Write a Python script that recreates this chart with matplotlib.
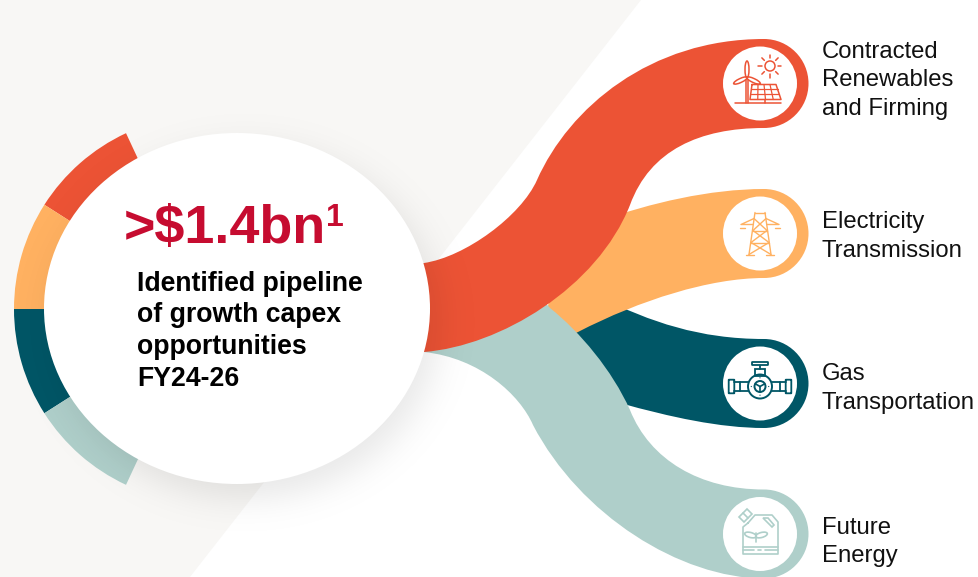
import numpy as np
import matplotlib
matplotlib.use("Agg")
import matplotlib.pyplot as plt
from matplotlib.patches import Circle, Ellipse, PathPatch, Polygon, Wedge, Rectangle, FancyBboxPatch
from matplotlib.path import Path

plt.rcParams['font.family'] = ['Liberation Sans', 'DejaVu Sans']

# chart content
segments = ["Contracted\nRenewables\nand Firming", "Electricity\nTransmission",
            "Gas\nTransportation", "Future\nEnergy"]
ring_shares = [25, 25, 25, 25]
headline = ">$1.4bn"
footnote_mark = "1"
description = ["Identified pipeline", "of growth capex", "opportunities", "FY24-26"]

RED = '#EC5335'
ORANGE = '#FFB161'
TEAL = '#005666'
MINT = '#AFCFCA'
CRIMSON = '#C60C30'
PAPER = '#F8F7F5'
colors = [RED, ORANGE, TEAL, MINT]

CAP_X, CAP_R = 764, 44.5
KAPPA = 0.5523 * CAP_R


def ribbon(head, upper, cy, lower, tail):
    """Closed band: head points, cubic runs along the upper edge, a round cap, cubic runs back."""
    verts = [head[0]]
    codes = [Path.MOVETO]
    for p in head[1:]:
        verts.append(p)
        codes.append(Path.LINETO)
    for c1, c2, p in upper:
        verts += [c1, c2, p]
        codes += [Path.CURVE4] * 3
    # round end around the icon disc
    right = CAP_X + CAP_R
    verts += [(CAP_X + KAPPA, cy - CAP_R), (right, cy - KAPPA), (right, cy),
              (right, cy + KAPPA), (CAP_X + KAPPA, cy + CAP_R), (CAP_X, cy + CAP_R)]
    codes += [Path.CURVE4] * 6
    for c1, c2, p in lower:
        verts += [c1, c2, p]
        codes += [Path.CURVE4] * 3
    for p in tail:
        verts.append(p)
        codes.append(Path.LINETO)
    verts.append(head[0])
    codes.append(Path.CLOSEPOLY)
    return Path(verts, codes)


def lines(ax, color, segs, lw=1.1):
    for seg in segs:
        s = np.array(seg, dtype=float)
        ax.plot(s[:, 0], s[:, 1], color=color, lw=lw, solid_capstyle='round',
                solid_joinstyle='round', zorder=7)


def icon_wind_solar(ax, cx, cy, c):
    # sun
    sx, sy = cx + 10, cy - 17.5
    ax.add_patch(Circle((sx, sy), 5, fill=False, ec=c, lw=1.1, zorder=7))
    for a in np.deg2rad(np.arange(0, 360, 45)):
        lines(ax, c, [[(sx + 8 * np.cos(a), sy + 8 * np.sin(a)),
                       (sx + 11.5 * np.cos(a), sy + 11.5 * np.sin(a))]])
    # turbine
    hx, hy = cx - 13, cy - 6
    lines(ax, c, [[(hx - 1, hy + 2), (hx - 1, cy + 19)], [(hx + 1.5, hy + 2), (hx + 1.5, cy + 19)]])
    ax.add_patch(Ellipse((hx, hy - 8), 4, 17, fill=False, ec=c, lw=1.1, zorder=7))
    ax.add_patch(Ellipse((hx - 6.5, hy + 3), 15, 4, angle=-25, fill=False, ec=c, lw=1.1, zorder=7))
    ax.add_patch(Ellipse((hx + 6.5, hy + 3), 15, 4, angle=25, fill=False, ec=c, lw=1.1, zorder=7))
    # panel
    tl, tr, br, bl = (cx - 8, cy + 1), (cx + 16, cy + 1), (cx + 21, cy + 16), (cx - 10, cy + 16)
    lines(ax, c, [[tl, tr, br, bl, tl]])
    for t in (0.25, 0.5, 0.75):
        lines(ax, c, [[(tl[0] + t * (tr[0] - tl[0]), tl[1]), (bl[0] + t * (br[0] - bl[0]), bl[1])]], lw=0.9)
    for t in (0.33, 0.66):
        lines(ax, c, [[(tl[0] + t * (bl[0] - tl[0]), tl[1] + t * 15), (tr[0] + t * (br[0] - tr[0]), tr[1] + t * 15)]], lw=0.9)
    lines(ax, c, [[(cx - 25, cy + 19.5), (cx + 21, cy + 19.5)], [(cx + 5, cy + 16), (cx + 5, cy + 19.5)]])


def icon_pylon(ax, cx, cy, c):
    lw = 1.0
    top_l, top_r = (cx - 5, cy - 21), (cx + 5, cy - 21)
    foot_l, foot_r = (cx - 11, cy + 21), (cx + 11, cy + 21)
    lines(ax, c, [[top_l, top_r], [top_l, foot_l], [top_r, foot_r]], lw)
    lines(ax, c, [[(cx - 6, cy - 15), (cx - 19, cy - 9), (cx - 7, cy - 9)],
                  [(cx + 6, cy - 15), (cx + 19, cy - 9), (cx + 7, cy - 9)]], lw)
    lines(ax, c, [[(cx - 6, cy - 15), (cx + 7, cy - 3), (cx - 9, cy + 9), (cx + 11, cy + 21)],
                  [(cx + 6, cy - 15), (cx - 7, cy - 3), (cx + 9, cy + 9), (cx - 11, cy + 21)],
                  [(cx - 7, cy - 3), (cx + 7, cy - 3)], [(cx - 9, cy + 9), (cx + 9, cy + 9)]], lw)
    lines(ax, c, [[(cx - 20, cy - 6), (cx - 15, cy - 6)], [(cx + 15, cy - 6), (cx + 20, cy - 6)],
                  [(cx - 14, cy + 21.5), (cx - 6, cy + 21.5)], [(cx + 6, cy + 21.5), (cx + 14, cy + 21.5)]], lw)


def icon_valve(ax, cx, cy, c):
    body_y = cy + 3
    ax.add_patch(Circle((cx, body_y), 12, fill=False, ec=c, lw=1.4, zorder=7))
    ax.add_patch(Circle((cx, body_y), 5.5, fill=False, ec=c, lw=1.4, zorder=7))
    for a in np.deg2rad([-90, 30, 150]):
        lines(ax, c, [[(cx, body_y), (cx + 5.5 * np.cos(a), body_y - 5.5 * np.sin(a))]], 1.2)
    for a in np.deg2rad([0, 90, 180, 270]):
        ax.add_patch(Circle((cx + 8.7 * np.cos(a), body_y + 8.7 * np.sin(a)), 0.6, fc=c, ec='none', zorder=7))
    ax.add_patch(Rectangle((cx - 5, cy - 15), 10, 7, fill=False, ec=c, lw=1.3, zorder=7))
    ax.add_patch(FancyBboxPatch((cx - 7.5, cy - 21), 15, 2, boxstyle="round,pad=0.5", fill=False, ec=c, lw=1.3, zorder=7))
    lines(ax, c, [[(cx, cy - 18), (cx, cy - 15)]], 1.3)
    for side in (-1, 1):
        lines(ax, c, [[(cx + side * 12, body_y - 4.5), (cx + side * 26, body_y - 4.5)],
                      [(cx + side * 12, body_y + 4.5), (cx + side * 26, body_y + 4.5)],
                      [(cx + side * 20, body_y - 4.5), (cx + side * 20, body_y + 4.5)]], 1.3)
        x0 = cx + 26 if side > 0 else cx - 31
        ax.add_patch(FancyBboxPatch((x0, body_y - 6.5), 5, 13, boxstyle="round,pad=0.3", fill=False, ec=c, lw=1.3, zorder=7))


def icon_can(ax, cx, cy, c):
    lw = 1.2
    lines(ax, c, [[(cx - 12, cy - 11), (cx - 5, cy - 19), (cx + 12, cy - 19), (cx + 18, cy - 12),
                   (cx + 18, cy + 20), (cx - 17, cy + 20), (cx - 17, cy - 7), (cx - 12, cy - 11)]], lw)
    lines(ax, c, [[(cx - 17, cy + 13), (cx + 18, cy + 13)], [(cx - 17, cy + 16), (cx - 6, cy + 16)],
                  [(cx - 2, cy + 16), (cx + 1, cy + 16)], [(cx + 5, cy + 16), (cx + 18, cy + 16)]], lw)
    # slanted cap and grip
    ax.add_patch(Polygon([(cx - 21, cy - 17), (cx - 13, cy - 25), (cx - 8, cy - 20), (cx - 16, cy - 12)],
                         closed=True, fill=False, ec=c, lw=lw, zorder=7))
    lines(ax, c, [[(cx - 17, cy - 21), (cx - 12, cy - 16)]], lw)
    ax.add_patch(Polygon([(cx + 3, cy - 16), (cx + 8, cy - 16), (cx + 14, cy - 9), (cx + 12, cy - 7)],
                         closed=True, fill=False, ec=c, lw=lw, zorder=7))
    # sprout
    sx = cx - 4
    lines(ax, c, [[(sx, cy - 1), (sx, cy + 8)]], lw)
    ax.add_patch(Ellipse((sx - 5.5, cy + 1), 12, 5, angle=15, fill=False, ec=c, lw=lw, zorder=7))
    ax.add_patch(Ellipse((sx + 5.5, cy + 1), 12, 5, angle=-15, fill=False, ec=c, lw=lw, zorder=7))


fig = plt.figure(figsize=(9.79, 5.77), dpi=100, facecolor='white')
ax = fig.add_axes([0, 0, 1, 1])

# background wedge
ax.add_patch(Polygon([(0, 0), (641, 0), (190, 577), (0, 577)], closed=True, fc=PAPER, ec='none', zorder=0))

# outer ring, split evenly from the top end down
ring_start, ring_sweep = 245, 130
edges = ring_start - np.cumsum([0] + ring_shares) / sum(ring_shares) * ring_sweep
for i, col in enumerate(colors):
    ax.add_patch(Wedge((208, 309), 194, edges[i + 1], edges[i], fc=col, ec='none', zorder=1))

# ribbons, back to front
icon_y = [83.5, 233.5, 383.5, 534]
teal_path = ribbon([(570, 285), (600, 297)],
                   [((650, 322), (700, 339), (CAP_X, icon_y[2] - CAP_R))], icon_y[2],
                   [((720, 428), (670, 417), (620, 403))], [(570, 380)])
orange_path = ribbon([(560, 240), (600, 221)],
                     [((650, 203), (710, 189), (CAP_X, icon_y[1] - CAP_R))], icon_y[1],
                     [((710, 278), (640, 300), (578, 332))], [(540, 350)])
mint_path = ribbon([(530, 285), (550, 308)],
                   [((580, 332), (612, 370), (630, 410)),
                    ((650, 460), (700, icon_y[3] - CAP_R), (CAP_X, icon_y[3] - CAP_R))], icon_y[3],
                   [((680, 578), (580, 515), (533, 425)),
                    ((520, 395), (480, 358), (424, 352))], [(410, 350)])
red_path = ribbon([(410, 265), (424, 263)],
                  [((465, 257), (521, 216), (537, 180)),
                   ((569, 108), (650, icon_y[0] - CAP_R), (CAP_X, icon_y[0] - CAP_R))], icon_y[0],
                  [((700, 128), (650, 150), (630, 205)),
                   ((597, 288), (500, 346), (424, 352))], [(410, 353)])
for path, col in zip([teal_path, orange_path, mint_path, red_path], [TEAL, ORANGE, MINT, RED]):
    ax.add_patch(PathPatch(path, fc=col, ec='none', zorder=2))

# soft shadow under the main disc
yy, xx = np.mgrid[0:577, 0:979]
dist = (np.hypot((xx - 245) / 193, (yy - 322) / 176) - 1) * 185
shadow = np.zeros((577, 979, 4))
shadow[..., 3] = 0.095 / (1 + np.exp(dist / 11))
ax.imshow(shadow, extent=(0, 979, 577, 0), interpolation='bilinear', aspect='auto', zorder=3)

ax.add_patch(Ellipse((237, 308.5), 386, 351, fc='white', ec='none', zorder=4))

# icon discs
for y in icon_y:
    ax.add_patch(Circle((760, y), 37, fc='white', ec='none', zorder=6))
icon_wind_solar(ax, 760, icon_y[0], RED)
icon_pylon(ax, 760, icon_y[1], ORANGE)
icon_valve(ax, 760, icon_y[2], TEAL)
icon_can(ax, 760, icon_y[3], MINT)

# text
ax.text(124, 243, headline, color=CRIMSON, fontsize=38.8, fontweight='bold', va='baseline', ha='left', zorder=8)
ax.text(326, 226, footnote_mark, color=CRIMSON, fontsize=23, fontweight='bold', va='baseline', ha='left', zorder=8)
for line, y in zip(description, [291, 322.5, 354, 386]):
    ax.text(137, y, line, color='black', fontsize=19.2, fontweight='bold', va='baseline', ha='left', zorder=8)
for label, y in zip(segments, [80.5, 236.5, 388.5, 542]):
    ax.text(822, y, label, color='#111111', fontsize=17.2, va='center', ha='left', linespacing=1.38, zorder=8)

ax.set_xlim(0, 979)
ax.set_ylim(577, 0)
ax.axis('off')
fig.savefig('out.png', dpi=100, facecolor='white')
